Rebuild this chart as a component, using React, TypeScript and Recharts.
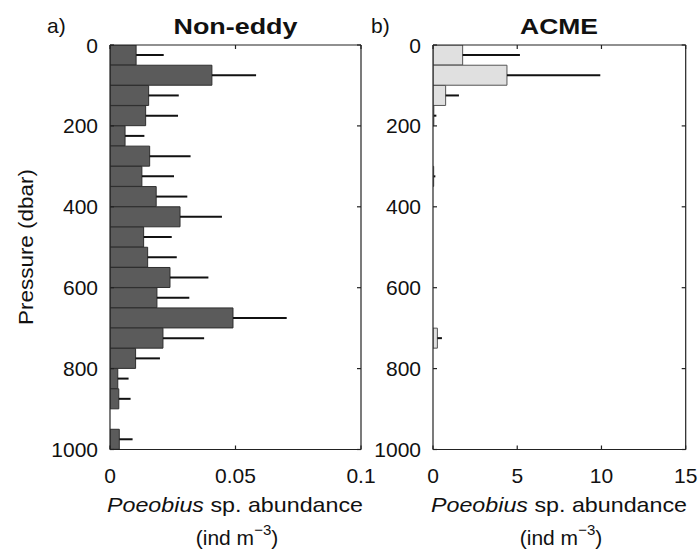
import React from 'react';
import { BarChart, Bar, XAxis, YAxis, ErrorBar } from 'recharts';

// Pressure bin centres (dbar), 50 dbar bins
const depthBins = [25, 75, 125, 175, 225, 275, 325, 375, 425, 475, 525, 575, 625, 675, 725, 775, 825, 875, 925, 975];
// Non-eddy Poeobius abundance (ind m^-3) and upper error
const nonEddyAbundance = [0.0104, 0.0406, 0.0154, 0.0142, 0.006, 0.0158, 0.0127, 0.0184, 0.0279, 0.0134, 0.015, 0.0239, 0.0187, 0.049, 0.0211, 0.0102, 0.0031, 0.0035, 0, 0.0037];
const nonEddyError = [0.011, 0.0176, 0.012, 0.0129, 0.0077, 0.0163, 0.0128, 0.0124, 0.0167, 0.0112, 0.0116, 0.0153, 0.0129, 0.0214, 0.0164, 0.0097, 0.0043, 0.0047, 0, 0.0053];
// ACME Poeobius abundance and upper error
const acmeAbundance = [1.76, 4.39, 0.75, 0.05, 0, 0, 0.04, 0, 0, 0, 0, 0, 0, 0, 0.26, 0, 0, 0, 0, 0];
const acmeError = [3.4, 5.54, 0.79, 0.15, 0, 0, 0.1, 0, 0, 0, 0, 0, 0, 0, 0.27, 0.12, 0.12, 0.12, 0.12, 0.12];

const pressureTicks = [0, 200, 400, 600, 800, 1000];
const nonEddyTicks = [0, 0.05, 0.1];
const acmeTicks = [0, 5, 10, 15];

const FONT = '"Liberation Sans", Arial, Helvetica, sans-serif';
const AXIS = '#222';
const TXT = '#111';

const buildRows = (vals: number[], errs: number[]) =>
  depthBins.map((d, i) => ({ depth: d, value: vals[i], err: [0, errs[i]] }));

const nonEddyRows = buildRows(nonEddyAbundance, nonEddyError);
const acmeRows = buildRows(acmeAbundance, acmeError);

const BottomTick = (props: any) => {
  const { x, y, payload } = props;
  return (
    <g>
      <line x1={x} y1={y} x2={x} y2={y - 4} stroke={AXIS} strokeWidth={1.2} />
      <text x={x} y={y + 33.5} textAnchor="middle" fontSize={21} fill={TXT} fontFamily={FONT}>
        {String(payload.value)}
      </text>
    </g>
  );
};

const TopTick = (props: any) => {
  const { x, y } = props;
  return <line x1={x} y1={y} x2={x} y2={y + 4} stroke={AXIS} strokeWidth={1.2} />;
};

const LeftTick = (props: any) => {
  const { x, y, payload } = props;
  return (
    <g>
      <line x1={x} y1={y} x2={x + 4} y2={y} stroke={AXIS} strokeWidth={1.2} />
      <text x={x - 12} y={y} dy="0.36em" textAnchor="end" fontSize={21} fill={TXT} fontFamily={FONT}>
        {String(payload.value)}
      </text>
    </g>
  );
};

const RightTick = (props: any) => {
  const { x, y } = props;
  return <line x1={x} y1={y} x2={x - 4} y2={y} stroke={AXIS} strokeWidth={1.2} />;
};

type PanelProps = {
  rows: any[];
  xMax: number;
  xTicks: number[];
  fill: string;
  stroke: string;
  left: number;
  yAxisWidth: number;
  marginRight: number;
};

const Panel = ({ rows, xMax, xTicks, fill, stroke, left, yAxisWidth, marginRight }: PanelProps) => (
  <div style={{ position: 'absolute', left, top: 0 }}>
    <BarChart
      width={380}
      height={552}
      data={rows}
      layout="vertical"
      barCategoryGap={0}
      barGap={0}
      margin={{ top: 44, right: marginRight, bottom: 72.5, left: 0 }}
    >
      <XAxis
        xAxisId="bottom"
        type="number"
        orientation="bottom"
        domain={[0, xMax]}
        ticks={xTicks}
        allowDataOverflow
        height={30}
        tickSize={0}
        tickMargin={0}
        tick={<BottomTick />}
        axisLine={{ stroke: AXIS, strokeWidth: 1.2 }}
        tickLine={false}
        interval={0}
      />
      <XAxis
        xAxisId="top"
        type="number"
        orientation="top"
        domain={[0, xMax]}
        ticks={xTicks}
        allowDataOverflow
        height={1}
        tickSize={0}
        tickMargin={0}
        tick={<TopTick />}
        axisLine={{ stroke: AXIS, strokeWidth: 1.2 }}
        tickLine={false}
        interval={0}
      />
      <YAxis
        yAxisId="left"
        type="number"
        dataKey="depth"
        orientation="left"
        domain={[0, 1000]}
        ticks={pressureTicks}
        allowDataOverflow
        width={yAxisWidth}
        tickSize={0}
        tickMargin={0}
        tick={<LeftTick />}
        axisLine={{ stroke: AXIS, strokeWidth: 1.2 }}
        tickLine={false}
        interval={0}
      />
      <YAxis
        yAxisId="right"
        type="number"
        dataKey="depth"
        orientation="right"
        domain={[0, 1000]}
        ticks={pressureTicks}
        allowDataOverflow
        width={1}
        tickSize={0}
        tickMargin={0}
        tick={<RightTick />}
        axisLine={{ stroke: AXIS, strokeWidth: 1.2 }}
        tickLine={false}
        interval={0}
      />
      <Bar
        dataKey="value"
        xAxisId="bottom"
        yAxisId="left"
        fill={fill}
        stroke={stroke}
        strokeWidth={1}
        isAnimationActive={false}
      >
        <ErrorBar dataKey="err" direction="x" width={0} stroke="#111" strokeWidth={2} />
      </Bar>
    </BarChart>
  </div>
);

const XLabel = ({ cx }: { cx: number }) => (
  <g fontFamily={FONT} fill={TXT}>
    <text x={cx} y={512} textAnchor="middle" fontSize={21} textLength={256} lengthAdjust="spacingAndGlyphs">
      <tspan fontStyle="italic">Poeobius</tspan> sp. abundance
    </text>
    <text x={cx + 2} y={545} textAnchor="middle" fontSize={21}>
      <tspan>(ind m</tspan>
      <tspan dy={-10} fontSize={15}>−3</tspan>
      <tspan dy={10}>)</tspan>
    </text>
  </g>
);

export default function App() {
  return (
    <div style={{ position: 'absolute', left: 0, top: 0, width: 700, height: 552, background: '#fff', fontFamily: FONT }}>
      <Panel
        rows={nonEddyRows}
        xMax={0.1}
        xTicks={nonEddyTicks}
        fill="#5b5b5b"
        stroke="#2e2e2e"
        left={0}
        yAxisWidth={110}
        marginRight={18}
      />
      <Panel
        rows={acmeRows}
        xMax={15}
        xTicks={acmeTicks}
        fill="#e0e0e0"
        stroke="#555"
        left={320}
        yAxisWidth={113}
        marginRight={13.3}
      />
      <svg width={700} height={552} style={{ position: 'absolute', left: 0, top: 0, pointerEvents: 'none' }}>
        <g fontFamily={FONT} fill={TXT}>
          <text x={47} y={33} fontSize={21}>a)</text>
          <text x={371} y={33} fontSize={21}>b)</text>
          <text x={235.5} y={34} textAnchor="middle" fontSize={22} fontWeight="bold" textLength={124} lengthAdjust="spacingAndGlyphs">Non-eddy</text>
          <text x={559} y={34} textAnchor="middle" fontSize={22} fontWeight="bold" textLength={78} lengthAdjust="spacingAndGlyphs">ACME</text>
          <text x={33} y={247} transform="rotate(-90, 33, 247)" textAnchor="middle" fontSize={20} textLength={156} lengthAdjust="spacingAndGlyphs">Pressure (dbar)</text>
        </g>
        <XLabel cx={235} />
        <XLabel cx={559} />
      </svg>
    </div>
  );
}
